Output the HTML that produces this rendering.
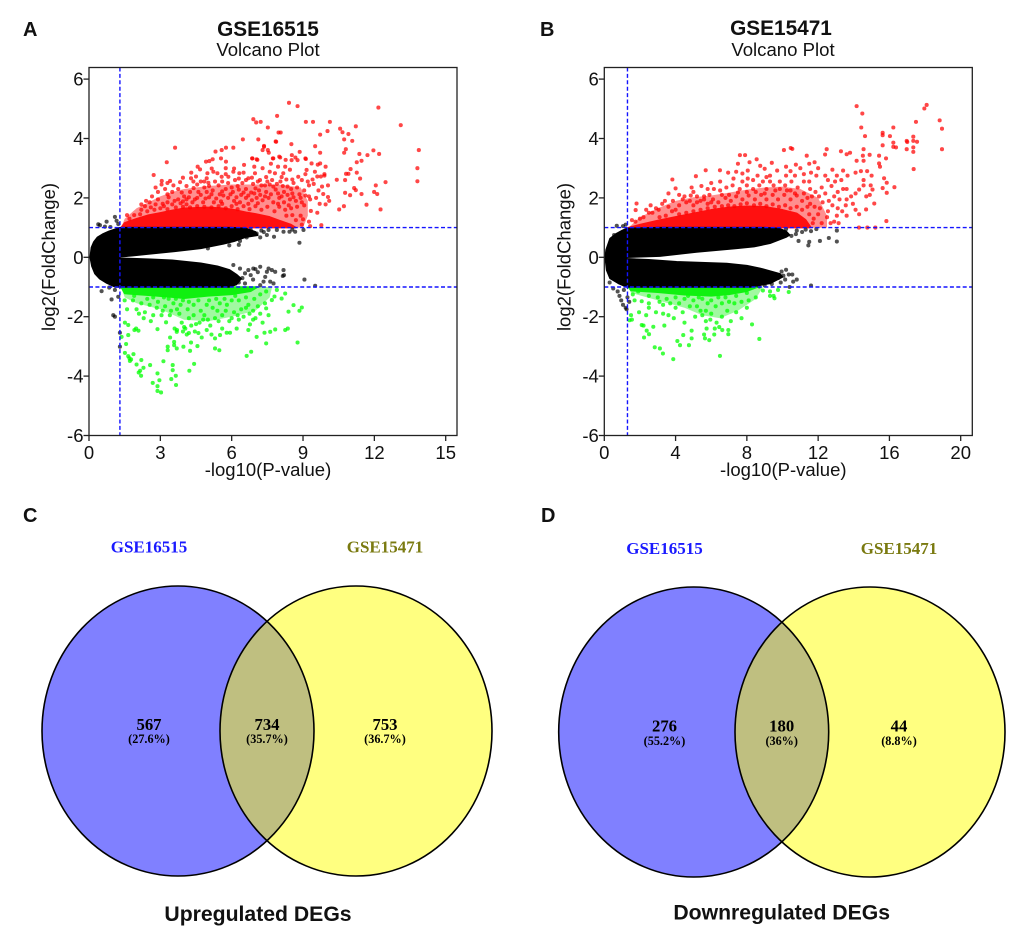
<!DOCTYPE html>
<html lang="en">
<head>
<meta charset="utf-8">
<title>Volcano plots and Venn diagrams</title>
<style>
html,body{margin:0;padding:0;background:#fff}
svg{display:block;filter:blur(0.35px)}
text{font-family:"Liberation Sans",Arial,sans-serif;fill:#111}
.serif{font-family:"Liberation Serif","Times New Roman",serif;font-weight:bold}
</style>
</head>
<body>
<svg id="figure" xmlns="http://www.w3.org/2000/svg" width="1020" height="933" viewBox="0 0 1020 933">
<defs>
<clipPath id="clip-c"><ellipse cx="356" cy="731" rx="136" ry="145"/></clipPath>
<clipPath id="clip-d"><ellipse cx="870" cy="732" rx="135" ry="145"/></clipPath>
</defs>
<rect width="1020" height="933" fill="#fff"/>

<text x="23" y="36" font-size="20" font-weight="bold">A</text>
<text x="540" y="36" font-size="20" font-weight="bold">B</text>
<text x="23" y="522" font-size="20" font-weight="bold">C</text>
<text x="541" y="522" font-size="20" font-weight="bold">D</text>

<text x="268" y="36" font-size="20.8" font-weight="bold" text-anchor="middle">GSE16515</text>
<text x="268" y="56" font-size="18.6" text-anchor="middle">Volcano Plot</text>
<text x="781" y="35" font-size="20.8" font-weight="bold" text-anchor="middle">GSE15471</text>
<text x="783" y="56" font-size="18.6" text-anchor="middle">Volcano Plot</text>

<g id="plot-a"></g>
<g id="plot-b"></g>

<g>
<text class="serif" x="149" y="552.5" font-size="17" text-anchor="middle" style="fill:#1a1aff">GSE16515</text>
<text class="serif" x="385" y="552.5" font-size="17" text-anchor="middle" style="fill:#7a7a10">GSE15471</text>
<ellipse cx="178" cy="731" rx="136" ry="145" fill="#8080ff"/>
<ellipse cx="356" cy="731" rx="136" ry="145" fill="#ffff80"/>
<ellipse cx="178" cy="731" rx="136" ry="145" fill="#bfbf80" clip-path="url(#clip-c)"/>
<ellipse cx="178" cy="731" rx="136" ry="145" fill="none" stroke="#000" stroke-width="1.6"/>
<ellipse cx="356" cy="731" rx="136" ry="145" fill="none" stroke="#000" stroke-width="1.6"/>
<text class="serif" x="149" y="730" font-size="16.7" text-anchor="middle" style="fill:#000">567</text>
<text class="serif" x="149" y="743" font-size="12.2" text-anchor="middle" style="fill:#000">(27.6%)</text>
<text class="serif" x="267" y="730" font-size="16.7" text-anchor="middle" style="fill:#000">734</text>
<text class="serif" x="267" y="743" font-size="12.2" text-anchor="middle" style="fill:#000">(35.7%)</text>
<text class="serif" x="385" y="730" font-size="16.7" text-anchor="middle" style="fill:#000">753</text>
<text class="serif" x="385" y="743" font-size="12.2" text-anchor="middle" style="fill:#000">(36.7%)</text>
<text x="258" y="921" font-size="21.2" font-weight="bold" text-anchor="middle">Upregulated DEGs</text>
</g>

<g>
<text class="serif" x="664.5" y="554" font-size="17" text-anchor="middle" style="fill:#1a1aff">GSE16515</text>
<text class="serif" x="899" y="554" font-size="17" text-anchor="middle" style="fill:#7a7a10">GSE15471</text>
<ellipse cx="693.7" cy="732" rx="135" ry="145" fill="#8080ff"/>
<ellipse cx="870" cy="732" rx="135" ry="145" fill="#ffff80"/>
<ellipse cx="693.7" cy="732" rx="135" ry="145" fill="#bfbf80" clip-path="url(#clip-d)"/>
<ellipse cx="693.7" cy="732" rx="135" ry="145" fill="none" stroke="#000" stroke-width="1.6"/>
<ellipse cx="870" cy="732" rx="135" ry="145" fill="none" stroke="#000" stroke-width="1.6"/>
<text class="serif" x="664.5" y="731.5" font-size="16.7" text-anchor="middle" style="fill:#000">276</text>
<text class="serif" x="664.5" y="745" font-size="12.2" text-anchor="middle" style="fill:#000">(55.2%)</text>
<text class="serif" x="781.7" y="731.5" font-size="16.7" text-anchor="middle" style="fill:#000">180</text>
<text class="serif" x="781.7" y="745" font-size="12.2" text-anchor="middle" style="fill:#000">(36%)</text>
<text class="serif" x="899" y="731.5" font-size="16.7" text-anchor="middle" style="fill:#000">44</text>
<text class="serif" x="899" y="745" font-size="12.2" text-anchor="middle" style="fill:#000">(8.8%)</text>
<text x="781.7" y="919.5" font-size="21.2" font-weight="bold" text-anchor="middle">Downregulated DEGs</text>
</g>
</svg>

<script>
/* ---------- shared tick labels ---------- */
const yTicks=[6,4,2,0,-2,-4,-6];
const xTicksA=[0,3,6,9,12,15];
const xTicksB=[0,4,8,12,16,20];
const pCut=1.3;
const fcCut=[1,-1];

/* ---------- panel A: dense envelopes (x, log2FC) ---------- */
const aUpperOuter=[[0.05,0],[0.1,0.33],[0.2,0.52],[0.35,0.67],[0.6,0.79],[0.85,0.88],[1.15,0.96],[1.3,1],[3,1],[5,1],[6,1],[6.6,0.97],[7,0.86],[7.1,0.74]];
const aUpperInner=[[6.6,0.68],[6.1,0.54],[5.65,0.45],[4.7,0.3],[3.6,0.2],[2.4,0.1],[1.8,0.05],[1.3,0.02]];
const aLowerInner=[[1.3,-0.03],[2.5,-0.06],[3.5,-0.1],[4.7,-0.2],[5.4,-0.3],[5.9,-0.42],[6.2,-0.58]];
const aLowerOuter=[[6.4,-0.72],[6.2,-0.92],[5.9,-1],[4,-1],[2,-1],[1.3,-1],[1.1,-1],[0.75,-0.87],[0.45,-0.72],[0.25,-0.55],[0.12,-0.3]];
const aRedFill=[[1.35,1],[1.5,1.16],[2,1.3],[2.5,1.42],[3,1.5],[3.5,1.58],[4,1.65],[5,1.68],[5.5,1.66],[6,1.62],[6.6,1.52],[7,1.46],[7.6,1.36],[8,1.24],[8.5,1.1],[8.7,1]];
const aRedHaze=[[1.35,1],[1.5,1.3],[2,1.65],[2.5,1.85],[3,2.05],[3.5,2.2],[4,2.3],[5,2.4],[6,2.45],[7,2.45],[8,2.45],[8.9,2.35],[9.2,1.9],[9.2,1.4],[9,1]];
const aGreenFill=[[1.35,-1],[1.5,-1.22],[2.5,-1.28],[3.5,-1.34],[4,-1.38],[5,-1.3],[6,-1.25],[6.8,-1.14],[7.1,-1]];
const aGreenHaze=[[1.35,-1],[1.5,-1.35],[2,-1.55],[3,-1.75],[4,-2.1],[5,-2.15],[6,-2],[7,-1.8],[7.6,-1.35],[7.7,-1]];

/* ---------- panel A: red points (x, log2FC) ---------- */
const aRed=[[8.41,5.2],[8.77,5.09],[12.17,5.04],[6.91,4.65],[7.03,4.54],[7.22,4.56],[7.91,4.76],[9.12,4.56],[9.42,4.56],[10.13,4.56],[7.52,4.37],[13.11,4.45],[10.56,4.33],[10.66,4.21],[11.22,4.41],[10.03,4.25],[9.72,4.13],[7.97,4.2],[8.06,4.2],[10.91,4.15],[10.73,3.97],[11.07,3.92],[6.47,3.97],[7.12,3.97],[7.87,3.89],[8.51,3.81],[9.51,3.74],[7.36,3.72],[3.62,3.69],[13.87,3.61],[10.8,3.64],[10.73,3.52],[11.37,3.48],[11.96,3.6],[12.2,3.48],[11.71,3.44],[9.72,3.52],[8.86,3.55],[7.56,3.52],[5.76,3.69],[6.07,3.69],[5.58,3.61],[5.32,3.56],[3.27,3.2],[6.87,3.33],[7.08,3.28],[7.73,3.33],[8.04,3.36],[8.27,3.28],[8.53,3.44],[8.68,3.36],[9.12,3.31],[11.46,3.25],[11.26,3.2],[13.81,3],[11,2.97],[10.81,2.81],[10.91,2.81],[11.26,2.85],[2.72,2.77],[13.81,2.56],[12.47,2.53],[10.42,2.61],[10.77,2.6],[11.4,2.65],[11.15,2.33],[12.06,2.42],[11.22,2.26],[11.99,2.2],[12.12,2.13],[10.77,2.17],[10.98,2.09],[11.46,2.13],[11.67,1.77],[12.26,1.61],[10.52,1.61],[10.72,1.72],
[4.92,3.22],[5.06,3.24],[5.2,3.3],[5.55,3.33],[5.76,3.22],[4.57,3.05],[4.67,2.96],[5.16,2.99],[5.23,2.88],[5.4,2.83],[4.98,2.83],[6.1,2.99],[6.07,2.88],[6.32,2.83],[6.52,3.11],[6.86,3.33],[7.05,3.3],[7.36,3.75],[7.3,3.61],[7.52,3.61],[7.85,3.9],[7.75,3.33],[8,3.39],[8.52,3.27],[8.77,3.27],[9.1,3.33],[9.36,3.16],[9.72,3.16],[9.5,2.88],[9.9,2.75],[9.15,2.94],[9.62,3.12],[9.95,3.05],[9.9,2.8],[9.75,2.72],[9.6,2.72],[9.4,2.62],[9.45,2.47],[9.25,2.42],[9.8,2.38],[10.05,2.42],[9.65,2.25],[9.85,2.13],[10.05,2.03],[9.55,2],[10.1,1.9],[9.95,1.78],[9.3,1.95],[9.25,2.05],[9.7,1.8],[9.33,1.56],[9.6,1.5],[9.77,1.08],[9.25,1.2],[9,1.28],
[3.06,2.57],[3.41,2.57],[3.83,2.53],[4.29,2.66],[4.39,2.55],[4.7,2.55],[4.95,2.66],[5.02,2.51],[5.3,2.55],[5.58,2.71],[5.86,2.71],[6.14,2.6],[6.7,2.66],[6.98,2.83],[7.19,2.6],[7.6,2.88],[7.82,2.83],[8.17,2.83],[8.8,2.71],[8.45,2.95],[8.95,2.6],[8.3,2.62],[7.45,2.7],[6.45,2.5],[6.6,2.3],[6.9,2.47],[7.25,2.42],[7.6,2.45],[7.9,2.47],[8.35,2.38],[8.75,2.35],[9.05,2.25],[8.55,2.15],[8.2,2.2],[7.85,2.28],[7.45,2.2],[7.15,2.25],[6.82,2.18],[6.4,2.1],[6.05,2.2],[5.75,2.3],[5.5,2.12],[5.2,2.25],[4.85,2.35],[4.6,2.2],[4.25,2.2],[4,2.05],[3.75,2.3],[3.5,2.2],[3.2,2.3],[2.9,2.2],[3.05,2.45],[2.65,2.05],[2.4,1.9],[2.2,1.78],[2.55,1.85],[2.9,1.95],[3.1,1.8],[3.35,2.02],[3.6,1.9],[3.85,1.82],[4.1,1.95],[4.35,1.85],[4.55,2],[4.8,1.85],[5.05,2.02],[5.25,1.85],[5.55,1.88],[5.85,2],[6.1,1.9],[6.35,1.85],[6.6,2],[6.85,1.92],[7.05,2],[7.3,1.92],[7.55,2],[7.75,1.85],[8,2],[8.2,1.85],[8.45,1.95],[8.7,1.9],[8.9,2],[9.05,1.75],[8.75,1.7],[8.5,1.65],[8.25,1.6],[8,1.7],[7.8,1.55],[7.5,1.7],[7.25,1.6],[7,1.72],[6.75,1.62],[6.5,1.72],[6.25,1.62],[6,1.72],[5.75,1.65],[5.45,1.72],[5.15,1.68],[4.85,1.7],[4.55,1.72],[4.25,1.68],[3.95,1.7],[3.65,1.68],[3.3,1.62],[3,1.65],[2.75,1.6],[2.45,1.55],[2.15,1.45],[1.9,1.42],[1.7,1.3],[1.6,1.42],[8.55,1.42],[8.3,1.4],[8.9,1.4],[8.7,1.25],[8.95,1.1],[9.3,1.05],[8.6,2.5],[8.05,2.55],[7.7,2.6],[6.25,2.4],[5.85,2.5],[5.45,2.42],[4.1,2.4],[4.55,2.45],[6.95,3.05],[7.65,3.15],[7.95,3.05],[8.25,3.05],[6.5,2.85],[7.3,3],[5.75,3],[4.3,2.85],
[2.2,1.6],[2.35,1.72],[2.6,1.68],[2.8,1.78],[3.15,1.72],[3.3,1.85],[3.5,1.78],[3.75,1.95],[3.95,1.88],[4.2,2.02],[4.45,1.95],[4.7,2.1],[4.9,1.98],[5.15,2.12],[5.35,1.98],[5.65,2.08],[5.95,2.12],[6.2,2.02],[6.5,2.18],[6.7,2.08],[6.95,2.15],[7.2,2.1],[7.4,2.05],[7.65,2.12],[7.95,2.15],[8.1,2.05],[8.35,2.1],[8.6,2.02],[8.85,2.12],[9.1,2.08],[4.95,2.2],[5.6,2.22],[6.3,2.28],[7,2.32],[7.75,2.38],[8.5,2.3],[3.3,2.12],[3.9,2.18],[4.4,2.33],[5.05,2.4],[5.6,2.55],[6.6,2.6],[7.1,2.55],[7.4,2.42],[8.15,2.4],[6,2.35],[3.55,2.42],[2.8,2.35],[3.3,2.5],[3.95,2.68],[4.5,2.72],[4.85,2.55],[5.75,2.8],[6.3,2.65],[6.85,2.68],[7.5,2.55],[8.55,2.62],[8.1,2.7],[9.2,2.55],[9.1,2.8],[4.1,1.78],[5.6,1.8],[6.7,1.8],[7.1,1.82],[7.95,1.8],[8.4,1.75],[8.95,1.85],[6.2,1.8]];

/* ---------- panel A: green points ---------- */
const aGreen=[[3.03,-4.55],[2.88,-4.5],[2.88,-4.34],[2.96,-4.14],[2.88,-3.91],[2.68,-4.23],[3.66,-4.3],[3.46,-4.1],[3.65,-3.99],[3.52,-3.8],[3.52,-3.63],[3.13,-3.5],[2.57,-3.63],[4.22,-3.82],[4.42,-3.59],[2.19,-3.99],[2.09,-3.88],[2.15,-3.82],[2.29,-3.72],[2,-3.61],[2.2,-3.46],[1.87,-3.26],[1.65,-3.33],[1.72,-3.49],[1.77,-3.44],[1.7,-3.4],[1.51,-3.22],[1.37,-2.68],[1.65,-2.62],[1.56,-2.92],[1.51,-2.2],[1.65,-2.28],[1.98,-2.4],[2.08,-2.47],[1.91,-2.45],[2.88,-2.42],[3.24,-2.19],[3.41,-2.7],[3.31,-3.01],[3.31,-3.13],[3.58,-2.85],[3.58,-2.96],[3.69,-3.07],[3.97,-3.01],[4.25,-3.15],[4.56,-2.99],[4.29,-2.87],[4.74,-2.7],[4.11,-2.6],[3.69,-2.51],[5.3,-3.07],[5.48,-3.13],[6.63,-3.32],[6.82,-3.18],[5.3,-2.73],[5.51,-2.62],[5.79,-2.54],[5.93,-2.54],[6.77,-2.26],[6.7,-2.45],[6.21,-2.4],[7.05,-2.68],[7.38,-2.54],[7.62,-2.51],[7.83,-2.43],[7.45,-2.9],[8.25,-2.45],[8.36,-2.4],[8.77,-2.87],[8.95,-1.69],[8.85,-1.8],[8.6,-1.61],[8.39,-1.83],[8.25,-1.22],[8.1,-1.39],[7.9,-1.1],[7.69,-1.44],[7.8,-1.32],[7.45,-1.72],[7.4,-1.55],[7.2,-1.9],[6.9,-1.8],[6.7,-1.6],[6.4,-1.75],[6.1,-1.85],[6.3,-2.1],[5.9,-2.15],[5.6,-1.95],[5.3,-2.05],[5.1,-2.3],[4.8,-2.1],[4.5,-2.25],[4.2,-2.05],[3.9,-2.2],[3.6,-2.4],[3.8,-1.9],[3.4,-1.95],[3.05,-1.95],[2.7,-1.95],[2.35,-1.85],[2,-1.75],[1.6,-1.75],[1.5,-1.45],[1.85,-1.45],[2.2,-1.55],[2.55,-1.6],[2.9,-1.5],[3.2,-1.65],[3.55,-1.55],[3.85,-1.6],[4.15,-1.75],[4.4,-1.6],[4.7,-1.8],[4.95,-1.6],[5.2,-1.7],[5.5,-1.55],[5.8,-1.6],[6,-1.45],[6.3,-1.45],[6.6,-1.35],[6.95,-1.4],[7.2,-1.25],[7.45,-1.15],[6.75,-1.9],[6.5,-2],[7,-2.05],[5.6,-2.4],[5.15,-2.6],[4.95,-2.45],[4.45,-2.5],[4.05,-2.4],[3.7,-2.45],[3.95,-1.45],[4.6,-1.45],[5.35,-1.4],[2.45,-1.4],[3.15,-1.35],[3.65,-1.4],[4.2,-1.5],[5.05,-1.45],[5.7,-1.4],[6.15,-1.3],[1.9,-1.3],[2.7,-1.35],[4.4,-1.95],[4.85,-1.95],[5.4,-1.8],[3.35,-1.4],[2.3,-2.05],[2.6,-2.15],
[3.1,-1.8],[3.7,-1.75],[4,-2.35],[4.3,-2.3],[4.65,-2.2],[5,-2.1],[5.45,-2.15],[5.75,-1.8],[6,-2.05],[6.25,-1.95],[6.6,-1.7],[7.1,-1.65],[7.55,-1.95],[7.3,-2.2],[6.9,-2.1],[4.6,-2.55],[4.2,-2.55],[3.95,-2.5],[2.1,-1.9],[2.85,-1.7],[3.45,-1.8]];

/* ---------- panel A: black outliers ---------- */
const aBlack=[[0.74,1.2],[1.09,1.36],[0.46,1.08],[1.16,1.23],[1.23,1.12],[0.67,1.03],[0.39,1.11],[0.9,1.02],[0.53,-1.14],[0.95,-1.42],[1.02,-1.95],[1.09,-2],[1.3,-2.54],[1.3,-3.01],[1.09,-1.1],[1.23,-1.33],[0.85,-1.02],[8.85,0.49],[9.02,0.92],[8.67,0.86],[8.43,0.86],[8.18,0.86],[7.78,0.69],[7.48,0.75],[7.2,0.67],[7.05,0.8],[6.84,0.78],[6.63,0.67],[7.35,0.85],[7.9,0.92],[8.55,0.93],[6.3,0.42],[5.9,0.4],[5,0.3],[9.06,-0.75],[9.51,-0.96],[8.18,-0.43],[8.2,-0.6],[8.15,-0.63],[7.76,-0.88],[7.62,-0.82],[7.83,-0.49],[7.55,-0.38],[7.69,-0.43],[7.48,-0.49],[7.41,-0.66],[7.34,-0.82],[7.2,-0.94],[7.2,-0.32],[6.91,-0.38],[6.7,-0.43],[6.56,-0.54],[6.56,-0.88],[6.35,-0.38],[6.07,-0.26],[6.8,-0.6],[7.1,-0.5],[6.9,-0.75],[6.45,-0.7],[6.3,-0.85],[7,-0.4],[7.25,0.9],[7.55,0.92],[6.8,0.92],[6.35,0.55]];

/* ---------- panel B: dense envelopes ---------- */
const bUpperOuter=[[0.05,0],[0.1,0.25],[0.32,0.63],[0.69,0.8],[1,0.9],[1.25,0.97],[3,1],[6,1],[9,1],[9.8,0.97],[10.2,0.88],[10.4,0.75]];
const bUpperInner=[[10.2,0.68],[9.3,0.47],[8.4,0.36],[7.43,0.3],[5.18,0.18],[3.12,0.04],[1.25,0]];
const bLowerInner=[[1.25,-0.05],[2.5,-0.08],[4.06,-0.15],[6.87,-0.21],[8,-0.28],[8.74,-0.37],[9.86,-0.56]];
const bLowerOuter=[[10,-0.66],[9.3,-0.88],[8.2,-1],[5,-1],[2,-1],[1.25,-1],[0.79,-0.88],[0.32,-0.71],[0.13,-0.43]];
const bRedFill=[[1.35,1],[2,1.1],[3,1.24],[4,1.36],[5,1.48],[6,1.6],[7,1.68],[8,1.72],[9,1.7],[10,1.6],[10.8,1.48],[11.3,1.26],[11.6,1]];
const bRedHaze=[[1.35,1],[2,1.35],[3,1.65],[4,1.9],[5,2.02],[6,2.08],[7,2.18],[8,2.28],[9,2.35],[10,2.38],[11,2.3],[12,2],[12.5,1.4],[12.5,1]];
const bGreenFill=[[1.35,-1],[1.5,-1.12],[3,-1.18],[4.5,-1.26],[6,-1.3],[7,-1.25],[8,-1.14],[8.6,-1]];
const bGreenHaze=[[1.35,-1],[1.5,-1.2],[3,-1.45],[4.5,-1.7],[5.5,-1.95],[6.5,-2.05],[7.5,-1.8],[8.5,-1.4],[8.9,-1]];

/* ---------- panel B: red points ---------- */
const bRed=[[14.16,5.09],[14.48,4.84],[18.09,5.13],[17.96,5.01],[18.82,4.61],[18.95,4.33],[18.95,3.64],[17.49,4.56],[14.42,4.37],[14.63,4.08],[16.22,4.37],[15.62,4.19],[15.62,4.11],[16.03,4.08],[15.62,3.77],[16.22,3.86],[16.22,3.72],[16.37,3.7],[16.97,3.92],[17,3.88],[16.97,3.64],[17.34,4.06],[17.34,3.92],[17.55,3.89],[17.34,3.7],[17.34,3.55],[17.36,2.97],[14.55,3.64],[14.51,3.42],[14.89,3.45],[15.42,3.42],[15.81,3.33],[14.16,3.25],[14.55,3.25],[15.42,3.16],[15.47,3.05],[15.7,2.66],[15.85,2.51],[15.62,2.33],[15.85,2.17],[16.28,2.36],[15.15,1.81],[15.83,1.22],[14.69,1.61],[14.29,1],[14.76,1],[15.21,1],[10.46,3.68],[10.55,3.65],[10.08,3.61],[7.61,3.44],[7.9,3.44],[12.48,3.64],[13.28,3.57],[13.6,3.47],[13.79,3.52],[12.39,3.46],[11.36,3.42],[3.82,2.62],[5.69,2.93],[6.49,2.93],[5.14,2.73],[4,2.32],[7.5,3.15],[8.15,3.2],[8.55,3.3],[8.75,3.08],[9.4,3.18],[9,2.98],[8.05,2.92],[7.4,2.88],[6.95,2.85],[7.75,2.82],[8.6,2.75],[9.1,2.7],[9.7,2.92],[10.2,3.05],[10.45,2.9],[10.75,3.12],[11,3],[11.5,3.15],[11.8,3.2],[12,3],[11.2,2.8],[11.6,2.85],[11.9,2.75],[12.4,2.75],[12.8,2.95],[13.05,2.75],[13.4,2.92],[13.65,2.75],[14.1,2.85],[14.4,2.9],[14.75,2.9],[15,2.75],[14.55,2.6],[14.95,2.42],[14.55,2.42],[14.3,2.28],[15.05,2.28],[14.9,2.1],[14.7,2.05],[14.1,2.15],[13.6,2.3],[13.85,2.05],[13.6,1.95],[13.95,1.8],[14.1,1.6],[14.3,1.45],[13.1,1.65],[13.35,1.55],[13.05,1.4],[13.6,1.4],[12.9,1.2],[12.5,1.35],[12.55,1.55],[12.1,1.65],[11.8,1.7],[12,1.45],[11.75,1.3],[12.6,1.9],[12.9,2.05],[13.1,2.2],[12.75,2.4],[13.3,2.6],[12.95,2.55],[12.55,2.6],[12.2,2.35],[11.85,2.2],[11.55,2.3],[11.2,2.55],[10.85,2.35],[10.5,2.55],[10.15,2.42],[9.85,2.55],[9.5,2.42],[9.1,2.3],[8.7,2.42],[8.35,2.3],[8,2.42],[7.6,2.3],[7.2,2.42],[6.85,2.35],[6.5,2.25],[6.15,2.3],[5.9,2.1],[5.6,2.05],[5.2,2.05],[4.85,2.08],[4.5,2.05],[4.2,2.1],[3.85,1.9],[3.4,1.9],[3.25,1.8],[2.9,1.65],[3.05,1.6],[2.7,1.5],[2.5,1.5],[2.2,1.35],[2,1.3],[1.81,1.81],[1.76,1.59],[1.55,1.25],[1.75,1.2],
[4.2,1.75],[4.6,1.85],[5,1.75],[5.4,1.9],[5.8,1.8],[6.1,1.95],[6.4,1.85],[6.8,2],[7.1,1.9],[7.4,2.05],[7.75,1.95],[8.1,2.08],[8.45,1.95],[8.8,2.1],[9.1,1.95],[9.45,2.1],[9.75,1.95],[10.1,2.1],[10.45,1.95],[10.8,2.08],[11.1,1.9],[11.4,2],[11.1,1.6],[10.8,1.7],[10.45,1.65],[10.15,1.75],[9.8,1.7],[9.45,1.78],[9.1,1.72],[8.75,1.8],[8.4,1.75],[8,1.82],[7.65,1.78],[7.3,1.72],[6.95,1.75],[6.6,1.72],[6.2,1.7],[5.8,1.65],[5.4,1.6],[5,1.55],[4.6,1.5],[4.2,1.45],[3.8,1.55],[3.45,1.4],[3.1,1.35],[11.5,1.45],[11.7,1.15],[12.2,1.15],[12.7,1.15],[13.15,1.15],[11.55,1.8],[9.85,2.3],[10.45,2.25],[8.05,2.65],[8.9,2.55],[7.25,2.65],[6.5,2.55],[6,2.5],[5.45,2.4],[4.9,2.35],[9.3,2.75],[10.7,2.75],[12.05,2.05],
[3.6,1.7],[4,1.6],[4.4,1.95],[4.8,1.9],[5.2,1.85],[5.6,1.95],[6,1.85],[6.6,2.1],[7,2.1],[7.5,2.18],[8,2.2],[8.5,2.2],[9,2.15],[9.6,2.25],[10.25,2.25],[10.7,2.15],[11.2,2.15],[11.65,2.05],[12.4,2.15],[13.4,2.3],[13.2,1.95],[12.8,1.75],[13.55,1.75],[12.25,1.85],[11.4,1.7],[9.3,2.55],[8.35,2.6],[7.75,2.55],[10.2,2.75],[11.5,2.55],[5.8,2.3],[5,2.2],[3.6,2.15],[2.6,1.75],[2.35,1.6]];

/* ---------- panel B: green points ---------- */
const bGreen=[[3.87,-3.43],[6.49,-3.32],[3.29,-3.24],[2.83,-3.03],[3.12,-3.07],[4.1,-2.82],[4.25,-2.96],[4.75,-2.96],[4.43,-2.62],[4.9,-2.73],[4.9,-2.47],[5.65,-2.73],[5.89,-2.79],[6.17,-2.6],[8.7,-2.75],[8.29,-2.26],[6.96,-2.59],[6.96,-2.45],[6.62,-2.45],[2.23,-2.7],[2.51,-2.59],[2.1,-2.28],[2.38,-2.47],[2.75,-2.34],[3.37,-2.3],[5.74,-2.4],[5.6,-2.6],[4.5,-2.2],[3.9,-2.05],[2.2,-2.3],[1.5,-1.95],[1.55,-2.1],[1.42,-2.12],[1.95,-1.85],[2.5,-1.7],[2.9,-1.85],[3.3,-1.6],[3.6,-1.95],[4,-1.7],[4.4,-1.85],[4.8,-1.65],[5.1,-2],[5.4,-1.8],[5.7,-2.15],[6,-1.9],[6.3,-2.2],[6.6,-2],[6.2,-2.4],[6.45,-2.35],[7.1,-2.15],[7.4,-1.85],[7.7,-2.05],[8,-1.7],[7.3,-1.55],[7.7,-1.5],[8.1,-1.45],[8.5,-1.35],[9.3,-1.15],[9.5,-1.3],[9.55,-1.38],[9.75,-1.1],[9.3,-1.3],[10.35,-1.17],[8.9,-1.12],[6.6,-1.55],[6,-1.45],[5.5,-1.4],[5,-1.45],[4.5,-1.4],[4,-1.35],[3.5,-1.4],[3,-1.35],[2.5,-1.3],[2.1,-1.48],[1.7,-1.45],[1.6,-1.25],[1.9,-1.15],[2.5,-1.55],[3.1,-1.5],[3.7,-1.55],[4.2,-1.55],[5.2,-1.65],[5.8,-1.55],[6.25,-1.65],[6.9,-1.8],[5.95,-2.1],[5.5,-1.95],[6.8,-1.35],[7.4,-1.3],[8,-1.2],[7,-1.5],[5.3,-1.35],[4.7,-1.3],[5.7,-1.8],[6.4,-1.35],[3.3,-1.9],[2.35,-1.95]];

/* ---------- panel B: black outliers ---------- */
const bBlack=[[0.7,1.06],[1.2,1.1],[1.05,1.05],[0.55,0.75],[0.5,-1.05],[0.75,-1.15],[0.85,-1.3],[0.95,-1.45],[1.05,-1.6],[1.2,-1.7],[1.25,-1.75],[1.4,-1.5],[1.1,-1.1],[1.3,-1.35],[0.3,-0.85],[13.05,0.9],[13.05,0.53],[12.6,0.65],[12.1,0.55],[11.5,0.52],[11.45,0.4],[11.9,0.95],[11.6,0.88],[11.3,0.93],[11.1,0.85],[10.9,0.55],[10.75,0.78],[10.5,0.72],[10.8,0.9],[10.2,0.95],[11.6,-0.95],[10.4,-1],[10.6,-0.82],[10.8,-0.75],[10.55,-0.58],[10.35,-0.58],[10.2,-0.42],[9.95,-0.48],[10.05,-0.62],[9.75,-0.7],[9.9,-0.85],[9.4,-0.9],[9,-0.95],[8.7,-0.98],[10.15,-0.75]];

/* ---------- scales ---------- */
const NS='http://www.w3.org/2000/svg';
const yScale=v=>257.3-29.7*v;
const sxA=v=>89+23.78*v;
const sxB=v=>604.3+17.82*v;

function bandPath(sx,sets){
  let d='';
  sets.forEach(set=>set.forEach(p=>{d+=(d?'L':'M')+sx(p[0]).toFixed(1)+' '+yScale(p[1]).toFixed(1)}));
  return d+'Z';
}
function fillPath(sx,pts,base){
  let d='M'+sx(pts[0][0]).toFixed(1)+' '+yScale(base).toFixed(1);
  pts.forEach(p=>{d+='L'+sx(p[0]).toFixed(1)+' '+yScale(p[1]).toFixed(1)});
  return d+'L'+sx(pts[pts.length-1][0]).toFixed(1)+' '+yScale(base).toFixed(1)+'Z';
}
function dots(g,sx,pts,fill,op){
  pts.forEach(p=>{
    const el=document.createElementNS(NS,'circle');
    
    
    el.setAttribute('cx',sx(p[0]).toFixed(2));
    el.setAttribute('cy',yScale(p[1]).toFixed(2));
    el.setAttribute('r','2.05');
    el.setAttribute('fill',fill);
    el.setAttribute('opacity',op);
    g.appendChild(el);
  });
}
function area(g,d,fill,stroke,op){
  const el=document.createElementNS(NS,'path');
  
  
  el.setAttribute('d',d);
  el.setAttribute('fill',fill);
  el.setAttribute('stroke',stroke);
  el.setAttribute('stroke-width','1.5');
  el.setAttribute('stroke-linejoin','round');
  if(op)el.setAttribute('opacity',op);
  g.appendChild(el);
}
function line(g,x1,y1,x2,y2,col,w,dash){
  const el=document.createElementNS(NS,'line');
  
  
  el.setAttribute('x1',x1);el.setAttribute('y1',y1);el.setAttribute('x2',x2);el.setAttribute('y2',y2);
  el.setAttribute('stroke',col);el.setAttribute('stroke-width',w);
  if(dash)el.setAttribute('stroke-dasharray',dash);
  g.appendChild(el);
}
function label(g,x,y,str,anchor,rot){
  const el=document.createElementNS(NS,'text');
  
  
  el.setAttribute('x',x);el.setAttribute('y',y);
  el.setAttribute('font-size','18.5');
  el.setAttribute('text-anchor',anchor);
  if(rot)el.setAttribute('transform','rotate(-90 '+x+' '+y+')');
  el.textContent=str;
  g.appendChild(el);
}
function plot(id,sx,x0,xTicks,cfg){
  const g=document.getElementById(id);
  const x1=x0+368, top=67.5, bot=435.5;
  area(g,fillPath(sx,cfg.redHaze,1),'#ff2020','none','0.5');
  area(g,fillPath(sx,cfg.greenHaze,-1),'#20f020','none','0.42');
  area(g,fillPath(sx,cfg.redFill,1),'#ff1010','#ff1010');
  area(g,fillPath(sx,cfg.greenFill,-1),'#10f010','#10f010');
  dots(g,sx,cfg.red,'#ff0000','0.72');
  dots(g,sx,cfg.green,'#00ff00','0.75');
  dots(g,sx,cfg.black,'#000','0.68');
  area(g,bandPath(sx,cfg.band),'#000','#000');
  const vx=sx(pCut);
  line(g,vx,top,vx,bot,'#1414ff',1.4,'4 2.4');
  fcCut.forEach(v=>line(g,x0,yScale(v),x1,yScale(v),'#1414ff',1.4,'4 2.4'));
  const r=document.createElementNS(NS,'rect');
  
  
  r.setAttribute('x',x0);r.setAttribute('y',top);r.setAttribute('width',368);r.setAttribute('height',368);
  r.setAttribute('fill','none');r.setAttribute('stroke','#222');r.setAttribute('stroke-width','1.3');
  g.appendChild(r);
  yTicks.forEach(v=>{
    line(g,x0-5.5,yScale(v),x0,yScale(v),'#222',1.3);
    label(g,x0-5.5,yScale(v)+6.5,String(v),'end');
  });
  xTicks.forEach(v=>{
    line(g,sx(v),bot,sx(v),bot+5.5,'#222',1.3);
    label(g,sx(v),459,String(v),'middle');
  });
  label(g,x0+179,476,'-log10(P-value)','middle');
  label(g,x0-34,257,'log2(FoldChange)','middle',true);
}
plot('plot-a',sxA,89,xTicksA,{red:aRed,green:aGreen,black:aBlack,redFill:aRedFill,redHaze:aRedHaze,greenFill:aGreenFill,greenHaze:aGreenHaze,band:[aUpperOuter,aUpperInner,aLowerInner,aLowerOuter]});
plot('plot-b',sxB,604.3,xTicksB,{red:bRed,green:bGreen,black:bBlack,redFill:bRedFill,redHaze:bRedHaze,greenFill:bGreenFill,greenHaze:bGreenHaze,band:[bUpperOuter,bUpperInner,bLowerInner,bLowerOuter]});
</script>
</body>
</html>
